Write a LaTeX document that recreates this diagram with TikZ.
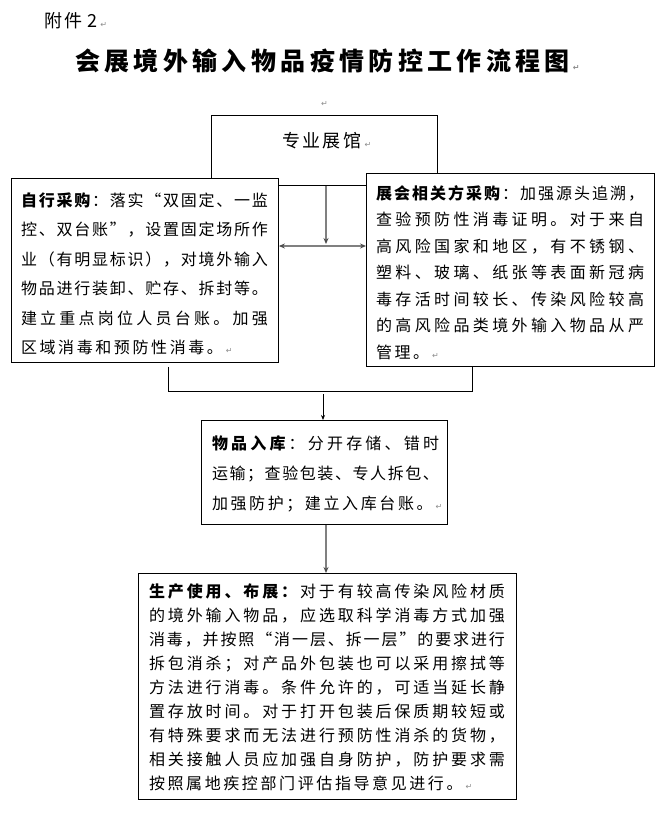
\documentclass[tikz,border=0pt]{standalone}
\usepackage{fontspec}
\setmainfont{Noto Sans CJK SC}
\newfontfamily\dvfont{DejaVu Sans}
\usetikzlibrary{arrows.meta,calc}
\XeTeXinterchartokenstate=1
\ifdefined\newXeTeXintercharclass \newXeTeXintercharclass\cjkc \else \chardef\cjkc=7 \fi
\makeatletter
\def\setcls#1#2{\count@=#1\relax\loop\ifnum\count@<#2\relax\XeTeXcharclass\count@=\cjkc\advance\count@\@ne\repeat}
\setcls{"3000}{"3040}
\setcls{"4E00}{"A000}
\setcls{"FF00}{"FFF0}
\setcls{"201C}{"201E}
\makeatother
\newdimen\cjkgap \cjkgap=2.5pt
\XeTeXinterchartoks\cjkc\cjkc={\hskip\cjkgap plus 1fil minus\cjkgap}
\newcommand\gl{\hskip\cjkgap plus 1fil minus\cjkgap}
\newcommand\retglyph{{\dvfont\fontsize{8}{8}\selectfont\color{black!45}↵}}
\newcommand\retmk{\hspace{3pt}\retglyph}
\newcommand\J[2]{\hbox to #1{#2}}
\tikzset{
  box/.style={draw=black, line width=0.9pt, fill=white, inner sep=0pt, anchor=north west},
  txt/.style={anchor=base west, inner sep=0pt, outer sep=0pt, font=\fontsize{16}{16}\selectfont\cjkgap 2.6pt\relax},
  ttl/.style={anchor=base west, inner sep=0pt, outer sep=0pt, font=\fontsize{25}{25}\selectfont\bfseries\cjkgap 4pt\relax},
  garrow/.style={draw=black!50, line width=1.6pt, -{Stealth[length=6pt,width=5pt,color=black!70]}},
  gdarrow/.style={draw=black!50, line width=1.6pt, {Stealth[length=6pt,width=5pt,color=black!70]}-{Stealth[length=6pt,width=5pt,color=black!70]}},
  bline/.style={draw=black, line width=0.9pt},
  barrow/.style={draw=black, line width=0.9pt, -{Stealth[length=5pt,width=4pt]}}
}
\begin{document}
\begin{tikzpicture}[x=1pt,y=-1pt]
\fill[white] (0,0) rectangle (668,817);
\useasboundingbox (0,0) rectangle (668,817);

% header
\node[txt, font=\fontsize{18}{18}\selectfont\cjkgap 1.5pt\relax] (annex) at (45,27) {附件\hspace{5pt}2\retmk};
\node[ttl] (title) at (75,70.5) {\J{495pt}{会展境外输入物品疫情防控工作流程图}\retmk};
\node[anchor=base west, inner sep=0pt] (pmark) at (321,106) {\retglyph};

% boxes
\node[box, minimum width=226pt, minimum height=70pt] (hall) at (211,115) {};
\node[txt, font=\fontsize{18}{18}\selectfont\cjkgap 2.5pt\relax] (hallt) at (282,147.6) {专业展馆\retmk};
\node[box, minimum width=267pt, minimum height=184pt] (left) at (11,178) {};
\node[box, minimum width=288pt, minimum height=193pt] (right) at (366,173) {};
\node[box, minimum width=246pt, minimum height=104pt] (store) at (201,420) {};
\node[box, minimum width=378pt, minimum height=226pt] (prod) at (138,573) {};

% left box text
\node[txt] (la) at (21,206.4) {\J{247pt}{\textbf{自行采购}\gl：落实“双固定、一监}};
\node[txt] (lb) at (21,235.8) {\J{247pt}{控、双台账”，设置固定场所作}};
\node[txt] (lc) at (21,265.3) {\J{247pt}{业（有明显标识），对境外输入}};
\node[txt] (ld) at (21,294.7) {\J{247pt}{物品进行装卸、贮存、拆封等。}};
\node[txt] (le) at (21,324.2) {\J{247pt}{建立重点岗位人员台账。加强}};
\node[txt] (lf) at (21,353.6) {区域消毒和预防性消毒。\retmk};

% right box text
\node[txt] (ra) at (376,199.4) {\J{268pt}{\textbf{展会相关方采购}\gl：加强源头追溯，}};
\node[txt] (rb) at (376,225.9) {\J{268pt}{查验预防性消毒证明。对于来自}};
\node[txt] (rc) at (376,252.4) {\J{268pt}{高风险国家和地区，有不锈钢、}};
\node[txt] (rd) at (376,278.8) {\J{268pt}{塑料、玻璃、纸张等表面新冠病}};
\node[txt] (re) at (376,305.3) {\J{268pt}{毒存活时间较长、传染风险较高}};
\node[txt] (rf) at (376,331.8) {\J{268pt}{的高风险品类境外输入物品从严}};
\node[txt] (rg) at (376,358.3) {管理。\retmk};

% store box text
\node[txt] (sa) at (212,449.4) {\J{227pt}{\textbf{物品入库}\gl：分开存储、错时}};
\node[txt] (sb) at (212,479.6) {\J{227pt}{运输；查验包装、专人拆包、}};
\node[txt] (sc) at (212,509.8) {加强防护；建立入库台账。\retmk};

% production box text
\node[txt] (pa) at (149,597.8) {\J{356pt}{\textbf{生产使用、布展：}\gl 对于有较高传染风险材质}};
\node[txt] (pb) at (149,621.8) {\J{356pt}{的境外输入物品，应选取科学消毒方式加强}};
\node[txt] (pc) at (149,645.8) {\J{356pt}{消毒，并按照“消一层、拆一层”的要求进行}};
\node[txt] (pd) at (149,669.8) {\J{356pt}{拆包消杀；对产品外包装也可以采用擦拭等}};
\node[txt] (pe) at (149,693.8) {\J{356pt}{方法进行消毒。条件允许的，可适当延长静}};
\node[txt] (pf) at (149,717.8) {\J{356pt}{置存放时间。对于打开包装后保质期较短或}};
\node[txt] (pg) at (149,741.8) {\J{356pt}{有特殊要求而无法进行预防性消杀的货物，}};
\node[txt] (ph) at (149,765.8) {\J{356pt}{相关接触人员应加强自身防护，防护要求需}};
\node[txt] (pi) at (149,789.8) {按照属地疾控部门评估指导意见进行。\retmk};

% connectors
\coordinate (j) at (326,246);
\coordinate (jt) at (326,244);
\draw[garrow] (jt |- hall.south) -- (jt);
\draw[gdarrow] (left.east |- j) -- (right.west |- j);
\coordinate (bl) at (168,391);
\coordinate (br) at (472,391);
\draw[bline] ($(bl |- left.south)+(0,4)$) -- (bl) -- (br) -- (br |- right.south);
\coordinate (bm) at (323,394);
\draw[barrow] (bm) -- (bm |- store.north);
\coordinate (sm) at (326,524);
\draw[garrow] (sm |- store.south) -- (sm |- prod.north);
\end{tikzpicture}
\end{document}
